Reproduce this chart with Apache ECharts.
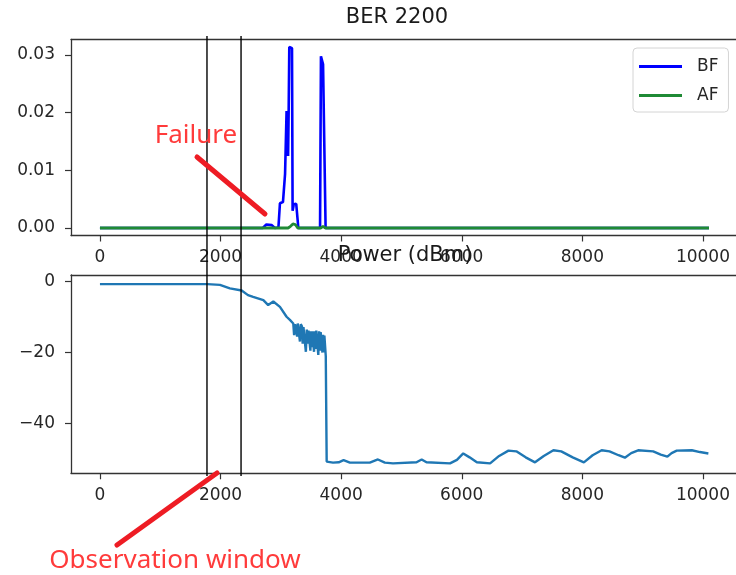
<!DOCTYPE html>
<html>
<head>
<meta charset="utf-8">
<script src="https://cdn.jsdelivr.net/npm/echarts@6/dist/echarts.min.js"></script>
<style>html,body{margin:0;padding:0;background:#fff}#c{width:736px;height:575px}</style>
</head>
<body>
<div id="c"></div>
<script>
// ---- data ----
const xTicks = [0, 2000, 4000, 6000, 8000, 10000];
const berTicks = [0, 0.01, 0.02, 0.03];
const powTicks = [0, -20, -40];

const bfX = [0, 2700, 2760, 2790, 2850, 2900, 2960, 2985, 3035, 3060, 3070, 3085, 3095, 3110, 3120, 3130, 3140, 3160, 3185, 3195, 3205, 3215, 3255, 3270, 3290, 3650, 3665, 3690, 3700, 3730, 3742, 10100];
const bfY = [0, 0, 0.0006, 0.0007, 0.0005, 0, 0.0001, 0.0043, 0.0045, 0.0046, 0.0094, 0.0096, 0.0203, 0.0205, 0.0125, 0.0207, 0.0314, 0.0315, 0.0312, 0.0030, 0.0028, 0.0041, 0.0042, 0.0040, 0, 0, 0.0298, 0.0297, 0.0284, 0.0283, 0, 0];

const afX = [0, 3120, 3160, 3200, 3240, 3280, 3660, 3700, 3740, 10100];
const afY = [0, 0, 0.0003, 0.0007, 0.0006, 0, 0, 0.0003, 0, 0];

const powX = [0, 1780, 1990, 2155, 2350, 2455, 2540, 2710, 2790, 2875, 2985, 3095, 3150, 3206, 3220, 3235, 3260, 3270, 3280, 3289, 3317, 3330, 3350, 3362, 3375, 3400, 3415, 3430, 3445, 3458, 3470, 3490, 3500, 3515, 3525, 3538, 3550, 3565, 3580, 3588, 3593, 3621, 3635, 3650, 3660, 3676, 3690, 3700, 3715, 3722, 3731, 3745, 3760,
  3865, 3960, 4040, 4145, 4475, 4610, 4725, 4860, 5250, 5335, 5415, 5805, 5920, 6025, 6130, 6250, 6470, 6620, 6775, 6905, 7060, 7215, 7360, 7520, 7650, 7840, 8025, 8170, 8320, 8450, 8600, 8705, 8810, 8925, 9175, 9300, 9410, 9480, 9565, 9815, 9950, 10090];
const powY = [-0.7, -0.7, -0.9, -1.9, -2.5, -3.8, -4.3, -5.2, -6.6, -5.6, -7.1, -9.9, -10.8, -11.8, -15.1, -12.0, -12.2, -15.5, -11.8, -11.3, -16.9, -12.0, -12.6, -17.5, -12.8, -13.2, -19.8, -13.5, -17.5, -13.8, -14.0, -19.5, -14.0, -18.5, -14.0, -14.1, -19.8, -14.0, -19.0, -13.8, -13.6, -20.7, -14.0, -19.5, -14.2, -14.6, -20.0, -15.0, -20.0, -15.2, -15.5, -21.0, -50.8,
  -51.1, -51.0, -50.4, -51.1, -51.1, -50.2, -51.1, -51.3, -51.0, -50.2, -51.0, -51.3, -50.3, -48.5, -49.6, -51.0, -51.3, -49.2, -47.7, -47.9, -49.6, -51.0, -49.2, -47.6, -47.9, -49.6, -51.0, -49.0, -47.6, -47.9, -49.0, -49.7, -48.4, -47.6, -47.9, -48.8, -49.4, -48.4, -47.7, -47.6, -48.1, -48.5];

const windowX = [1775, 2340];

// ---- chart ----
const zip = (xs, ys) => xs.map((x, i) => [x, ys[i]]);
const FONT = 'DejaVu Sans';
const AX = '#333';
const TXT = '#262626';
const XMIN = -480, XMAX = 10548;
const minus = v => (v < 0 ? '\u2212' + Math.abs(v) : String(v));

function xAxis(gi) {
  return {
    type: 'value', gridIndex: gi, min: XMIN, max: XMAX, position: 'bottom',
    axisLine: { show: true, onZero: false, lineStyle: { color: AX, width: 1.3 } },
    axisTick: { show: true, length: 6, customValues: xTicks, lineStyle: { color: AX, width: 1.2 } },
    axisLabel: { customValues: xTicks, margin: 14, fontFamily: FONT, fontSize: 17, color: TXT, formatter: v => String(v) },
    splitLine: { show: false }
  };
}
function topSpine(gi) {
  return {
    type: 'value', gridIndex: gi, min: XMIN, max: XMAX, position: 'top',
    axisLine: { show: true, onZero: false, lineStyle: { color: AX, width: 1.3 } },
    axisTick: { show: false }, axisLabel: { show: false }, splitLine: { show: false }
  };
}
function yAxis(gi, min, max, ticks, fmt) {
  return {
    type: 'value', gridIndex: gi, min: min, max: max,
    axisLine: { show: true, onZero: false, lineStyle: { color: AX, width: 1.3 } },
    axisTick: { show: true, length: 6, customValues: ticks, lineStyle: { color: AX, width: 1.2 } },
    axisLabel: { customValues: ticks, margin: 16, fontFamily: FONT, fontSize: 17, color: TXT, formatter: fmt },
    splitLine: { show: false }
  };
}

const chart = echarts.init(document.getElementById('c'), null, { renderer: 'canvas' });
const option = {
  animation: false,
  backgroundColor: '#fff',
  grid: [
    { left: 71, top: 39.5, right: 0, height: 196 },
    { left: 71, top: 275, right: 0, height: 198.3 }
  ],
  xAxis: [xAxis(0), xAxis(1), topSpine(0), topSpine(1)],
  yAxis: [
    yAxis(0, -0.0013, 0.0327, berTicks, v => v.toFixed(2)),
    yAxis(1, -54.1, 1.89, powTicks, minus)
  ],
  legend: {
    data: ['BF', 'AF'], orient: 'vertical', left: 633, top: 48,
    padding: [10, 10, 8, 6], itemWidth: 43, itemHeight: 3, itemGap: 12,
    icon: 'rect',
    textStyle: { fontFamily: FONT, fontSize: 17, color: TXT, padding: [0, 0, 0, 10] },
    borderColor: '#d4d4d4', borderWidth: 1, borderRadius: 4, backgroundColor: 'rgba(255,255,255,0.8)'
  },
  series: [
    { name: 'BF', type: 'line', xAxisIndex: 0, yAxisIndex: 0, data: zip(bfX, bfY), showSymbol: false, symbol: 'none', color: '#0000ff', lineStyle: { width: 2.6, color: '#0000ff' } },
    { name: 'AF', type: 'line', xAxisIndex: 0, yAxisIndex: 0, data: zip(afX, afY), showSymbol: false, symbol: 'none', color: '#1f8a35', lineStyle: { width: 2.8, color: '#1f8a35' } },
    { name: 'Power', type: 'line', xAxisIndex: 1, yAxisIndex: 1, data: zip(powX, powY), showSymbol: false, symbol: 'none', color: '#1f77b4', lineStyle: { width: 2.4, color: '#1f77b4' } }
  ]
};
chart.setOption(option);

const g = [];
windowX.forEach(v => {
  const px = chart.convertToPixel({ xAxisIndex: 0 }, v);
  g.push({ type: 'line', shape: { x1: px, y1: 36, x2: px, y2: 476 }, style: { stroke: '#000', lineWidth: 1.4 }, z: 50 });
});
g.push({ type: 'text', x: 397, y: 18, style: { text: 'BER 2200', fontFamily: FONT, fontSize: 21, fill: '#1a1a1a', textAlign: 'center', textVerticalAlign: 'middle' }, z: 60 });
g.push({ type: 'text', x: 405, y: 256, style: { text: 'Power (dBm)', fontFamily: FONT, fontSize: 21, fill: '#1a1a1a', textAlign: 'center', textVerticalAlign: 'middle' }, z: 60 });
g.push({ type: 'text', x: 196, y: 136, style: { text: 'Failure', fontFamily: 'Noto Sans', fontSize: 26, fill: '#ff3b3b', textAlign: 'center', textVerticalAlign: 'middle' }, z: 60 });
g.push({ type: 'text', x: 175, y: 561, style: { text: 'Observation window', fontFamily: 'Noto Sans', fontSize: 26, fill: '#ff3b3b', textAlign: 'center', textVerticalAlign: 'middle' }, z: 60 });
g.push({ type: 'line', shape: { x1: 197, y1: 157, x2: 265, y2: 214 }, style: { stroke: '#ee1c24', lineWidth: 5, lineCap: 'round' }, z: 60 });
g.push({ type: 'line', shape: { x1: 117, y1: 545, x2: 217, y2: 473 }, style: { stroke: '#ee1c24', lineWidth: 5, lineCap: 'round' }, z: 60 });
chart.setOption({ graphic: g });
</script>
</body>
</html>
